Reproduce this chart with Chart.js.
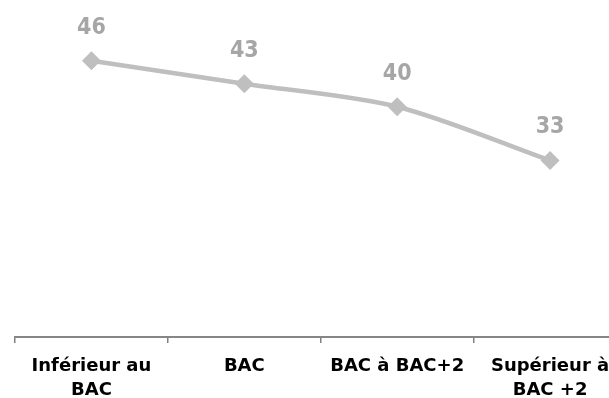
<!DOCTYPE html>
<html>
<head>
<meta charset="utf-8">
<script src="https://cdn.jsdelivr.net/npm/chart.js@4/dist/chart.umd.min.js"></script>
<style>
  html, body { margin: 0; padding: 0; background: #fff; overflow: hidden; }
  #wrap { position: absolute; left: 0; top: 0; width: 636px; height: 398px; }
</style>
</head>
<body>
<div id="wrap"><canvas id="c"></canvas></div>
<script>
// Niveau de diplôme
const categories = [
  ["Inférieur au", "BAC"],
  ["BAC"],
  ["BAC à BAC+2"],
  ["Supérieur à", "BAC +2"]
];
const values = [46, 43, 40, 33];

// Writes each point's value above its marker
const valueLabels = {
  id: 'valueLabels',
  afterDatasetsDraw(chart) {
    const ctx = chart.ctx;
    const meta = chart.getDatasetMeta(0);
    ctx.save();
    ctx.fillStyle = '#A6A6A6';
    ctx.font = 'bold 23px "DejaVu Sans Condensed", "DejaVu Sans"';
    ctx.textAlign = 'center';
    ctx.textBaseline = 'alphabetic';
    meta.data.forEach((pt, i) => {
      ctx.fillText(String(values[i]), pt.x, pt.y - 27);
    });
    ctx.restore();
  }
};

new Chart(document.getElementById('c'), {
  type: 'line',
  data: {
    labels: categories,
    datasets: [{
      data: values,
      borderColor: '#BFBFBF',
      backgroundColor: '#BFBFBF',
      borderWidth: 4.5,
      tension: 0.3,
      pointStyle: 'rectRot',
      pointRadius: 9.5,
      pointHoverRadius: 9.5,
      pointBorderWidth: 0,
      fill: false
    }]
  },
  options: {
    responsive: true,
    maintainAspectRatio: false,
    animation: false,
    layout: { padding: { left: 15, top: 30, right: 0, bottom: 0 } },
    plugins: { legend: { display: false }, tooltip: { enabled: false } },
    scales: {
      x: {
        offset: true,
        grid: { offset: true, drawOnChartArea: false, tickLength: 6, color: '#808080', lineWidth: 1.5 },
        border: { display: true, color: '#868686', width: 2 },
        ticks: {
          color: '#000',
          font: { family: '"DejaVu Sans"', weight: 'bold', size: 18, lineHeight: 1.33 },
          maxRotation: 0,
          autoSkip: false,
          padding: 11
        },
        afterFit(scale) { scale.height = 61; }
      },
      y: {
        display: false,
        min: 10,
        max: 50
      }
    }
  },
  plugins: [valueLabels]
});
</script>
</body>
</html>
